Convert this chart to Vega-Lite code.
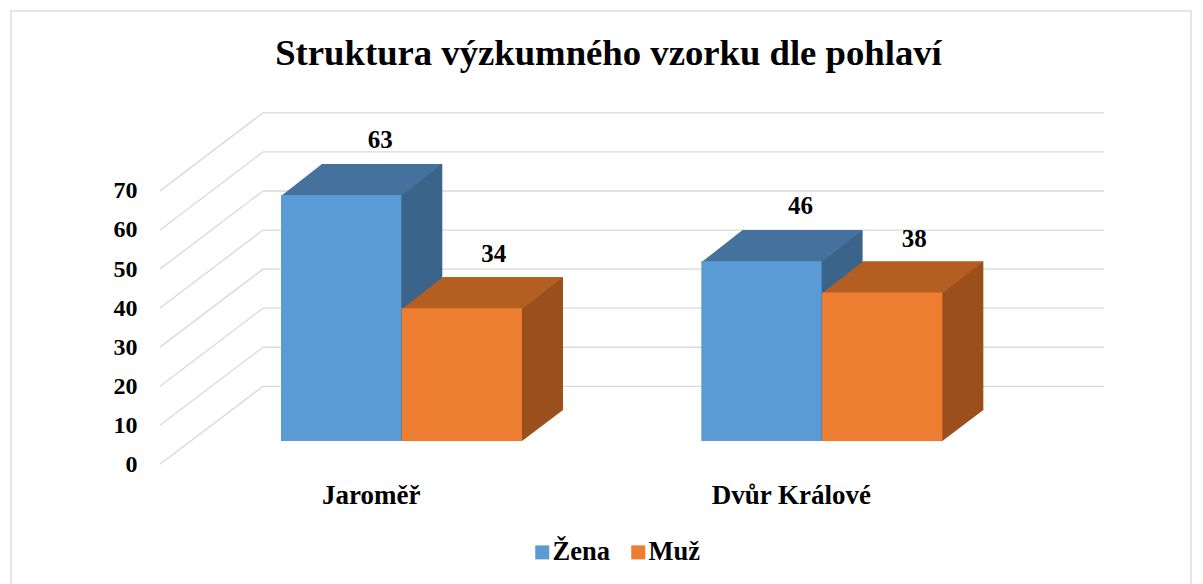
{
  "$schema": "https://vega.github.io/schema/vega-lite/v6.json",
  "width": 903,
  "height": 332,
  "autosize": {"type": "none"},
  "padding": {"left": 160, "top": 109, "right": 140, "bottom": 143},
  "background": "white",
  "title": {
    "text": "Struktura výzkumného vzorku dle pohlaví",
    "font": "Liberation Serif",
    "fontSize": 36.7,
    "fontWeight": "bold",
    "color": "#000000",
    "anchor": "middle",
    "baseline": "alphabetic",
    "offset": -91.6,
    "dx": -3
  },
  "datasets": {
    "bars": [
      {"city": "Jaroměř", "series": "Žena", "value": 63},
      {"city": "Jaroměř", "series": "Muž", "value": 34},
      {"city": "Dvůr Králové", "series": "Žena", "value": 46},
      {"city": "Dvůr Králové", "series": "Muž", "value": 38}
    ],
    "grid": [
      {"value": 0}, {"value": 10}, {"value": 20}, {"value": 30},
      {"value": 40}, {"value": 50}, {"value": 60}, {"value": 70}
    ],
    "frame": [{"k": 1}]
  },
  "resolve": {"scale": {"x": "independent"}, "axis": {"x": "independent"}},
  "layer": [
    {
      "data": {"name": "frame"},
      "mark": {"type": "rect", "fill": "white", "fillOpacity": 0, "stroke": "#D9D9D9", "strokeWidth": 1.3},
      "encoding": {
        "x": {"datum": -149, "type": "quantitative", "scale": {"domain": [0, 903], "nice": false, "zero": false}, "axis": null},
        "x2": {"datum": 1031},
        "y": {"datum": 110.1, "type": "quantitative", "scale": {"domain": [0, 85], "nice": false, "zero": true},
          "axis": {"title": null, "values": [0, 10, 20, 30, 40, 50, 60, 70], "labelOffset": 23.3, "labelPadding": 23, "ticks": false, "tickSize": 0, "domain": false, "grid": false, "labelFont": "Liberation Serif", "labelFontWeight": "bold", "labelFontSize": 24, "labelColor": "#000000", "labelBaseline": "middle"}},
        "y2": {"datum": -40}
      }
    },
    {
      "data": {"name": "grid"},
      "mark": {"type": "rule", "color": "#D9D9D9", "strokeWidth": 1.3, "yOffset": -54.7},
      "encoding": {
        "x": {"datum": 103, "type": "quantitative", "scale": {"domain": [0, 903], "nice": false, "zero": false}, "axis": null},
        "x2": {"datum": 944},
        "y": {"field": "value", "type": "quantitative", "scale": {"domain": [0, 85], "nice": false, "zero": true},
          "axis": {"title": null, "values": [0, 10, 20, 30, 40, 50, 60, 70], "labelOffset": 23.3, "labelPadding": 23, "ticks": false, "tickSize": 0, "domain": false, "grid": false, "labelFont": "Liberation Serif", "labelFontWeight": "bold", "labelFontSize": 24, "labelColor": "#000000", "labelBaseline": "middle"}}
      }
    },
    {
      "data": {"name": "grid"},
      "mark": {"type": "rule", "color": "#D9D9D9", "strokeWidth": 1.3, "yOffset": 23.3, "y2Offset": -54.7},
      "encoding": {
        "x": {"datum": 0, "type": "quantitative", "scale": {"domain": [0, 903], "nice": false, "zero": false}, "axis": null},
        "x2": {"datum": 103},
        "y": {"field": "value", "type": "quantitative", "scale": {"domain": [0, 85], "nice": false, "zero": true},
          "axis": {"title": null, "values": [0, 10, 20, 30, 40, 50, 60, 70], "labelOffset": 23.3, "labelPadding": 23, "ticks": false, "tickSize": 0, "domain": false, "grid": false, "labelFont": "Liberation Serif", "labelFontWeight": "bold", "labelFontSize": 24, "labelColor": "#000000", "labelBaseline": "middle"}},
        "y2": {"field": "value"}
      }
    },
    {
      "data": {"name": "bars"},
      "transform": [{"filter": "datum.series === 'Žena'"}],
      "mark": {"type": "bar", "color": "#3A6489", "xOffset": 41, "yOffset": -31, "y2Offset": -31},
      "encoding": {
        "x": {"field": "city", "type": "nominal", "scale": {"type": "band", "domain": ["Jaroměř", "Dvůr Králové"], "paddingInner": 0.7138, "paddingOuter": 0.4311, "align": 0.3339}, "axis": null},
        "y": {"field": "value", "type": "quantitative", "scale": {"domain": [0, 85], "nice": false, "zero": true},
          "axis": {"title": null, "values": [0, 10, 20, 30, 40, 50, 60, 70], "labelOffset": 23.3, "labelPadding": 23, "ticks": false, "tickSize": 0, "domain": false, "grid": false, "labelFont": "Liberation Serif", "labelFontWeight": "bold", "labelFontSize": 24, "labelColor": "#000000", "labelBaseline": "middle"}}
      }
    },
    {
      "data": {"name": "bars"},
      "transform": [{"filter": "datum.series === 'Žena'"}],
      "mark": {"type": "point", "shape": "M-0.6015,0.01L0.6015,0.01L1.0115,-0.31L-0.1915,-0.31Z", "size": 40000, "filled": true, "opacity": 1, "color": "#44729D", "strokeWidth": 0},
      "encoding": {
        "x": {"field": "city", "type": "nominal", "scale": {"type": "band", "domain": ["Jaroměř", "Dvůr Králové"], "paddingInner": 0.7138, "paddingOuter": 0.4311, "align": 0.3339}, "axis": null},
        "y": {"field": "value", "type": "quantitative", "scale": {"domain": [0, 85], "nice": false, "zero": true},
          "axis": {"title": null, "values": [0, 10, 20, 30, 40, 50, 60, 70], "labelOffset": 23.3, "labelPadding": 23, "ticks": false, "tickSize": 0, "domain": false, "grid": false, "labelFont": "Liberation Serif", "labelFontWeight": "bold", "labelFontSize": 24, "labelColor": "#000000", "labelBaseline": "middle"}}
      }
    },
    {
      "data": {"name": "bars"},
      "transform": [{"filter": "datum.series === 'Žena'"}],
      "mark": {"type": "point", "shape": "M0.59,-0.32L0.59,0L0.6015,0L1.0115,-0.31L1.0115,-0.32Z", "size": 40000, "filled": true, "opacity": 1, "color": "#3A6489", "strokeWidth": 0},
      "encoding": {
        "x": {"field": "city", "type": "nominal", "scale": {"type": "band", "domain": ["Jaroměř", "Dvůr Králové"], "paddingInner": 0.7138, "paddingOuter": 0.4311, "align": 0.3339}, "axis": null},
        "y": {"datum": 0, "type": "quantitative", "scale": {"domain": [0, 85], "nice": false, "zero": true},
          "axis": {"title": null, "values": [0, 10, 20, 30, 40, 50, 60, 70], "labelOffset": 23.3, "labelPadding": 23, "ticks": false, "tickSize": 0, "domain": false, "grid": false, "labelFont": "Liberation Serif", "labelFontWeight": "bold", "labelFontSize": 24, "labelColor": "#000000", "labelBaseline": "middle"}}
      }
    },
    {
      "data": {"name": "bars"},
      "transform": [{"filter": "datum.series === 'Žena'"}],
      "mark": {"type": "bar"},
      "encoding": {
        "x": {"field": "city", "type": "nominal", "scale": {"type": "band", "domain": ["Jaroměř", "Dvůr Králové"], "paddingInner": 0.7138, "paddingOuter": 0.4311, "align": 0.3339},
          "axis": {"title": null, "labelOffset": 30, "labelPadding": 62, "labelBaseline": "alphabetic", "ticks": false, "tickSize": 0, "domain": false, "grid": false, "labelAngle": 0, "labelFont": "Liberation Serif", "labelFontWeight": "bold", "labelFontSize": 27, "labelColor": "#000000"}},
        "y": {"field": "value", "type": "quantitative", "scale": {"domain": [0, 85], "nice": false, "zero": true},
          "axis": {"title": null, "values": [0, 10, 20, 30, 40, 50, 60, 70], "labelOffset": 23.3, "labelPadding": 23, "ticks": false, "tickSize": 0, "domain": false, "grid": false, "labelFont": "Liberation Serif", "labelFontWeight": "bold", "labelFontSize": 24, "labelColor": "#000000", "labelBaseline": "middle"}},
        "color": {"field": "series", "type": "nominal", "scale": {"domain": ["Žena", "Muž"], "range": ["#5B9BD5", "#ED7D31"]},
          "legend": {"orient": "none", "legendX": 369, "legendY": 430, "direction": "horizontal", "title": null, "symbolType": "square", "symbolSize": 196, "symbolStrokeWidth": 0, "symbolOpacity": 1, "labelFont": "Liberation Serif", "labelFontWeight": "bold", "labelFontSize": 26.5, "labelColor": "#000000", "labelOffset": -3, "columnPadding": 15, "padding": 0}}
      }
    },
    {
      "data": {"name": "bars"},
      "transform": [{"filter": "datum.series === 'Muž'"}],
      "mark": {"type": "bar", "color": "#9A4F1D", "xOffset": 41, "yOffset": -31, "y2Offset": -31},
      "encoding": {
        "x": {"field": "city", "type": "nominal", "scale": {"type": "band", "domain": ["Jaroměř", "Dvůr Králové"], "paddingInner": 0.7138, "paddingOuter": 0.4311, "align": 0.667}, "axis": null},
        "y": {"field": "value", "type": "quantitative", "scale": {"domain": [0, 85], "nice": false, "zero": true},
          "axis": {"title": null, "values": [0, 10, 20, 30, 40, 50, 60, 70], "labelOffset": 23.3, "labelPadding": 23, "ticks": false, "tickSize": 0, "domain": false, "grid": false, "labelFont": "Liberation Serif", "labelFontWeight": "bold", "labelFontSize": 24, "labelColor": "#000000", "labelBaseline": "middle"}}
      }
    },
    {
      "data": {"name": "bars"},
      "transform": [{"filter": "datum.series === 'Muž'"}],
      "mark": {"type": "point", "shape": "M-0.6015,0.01L0.6015,0.01L1.0115,-0.31L-0.1915,-0.31Z", "size": 40000, "filled": true, "opacity": 1, "color": "#B55E22", "strokeWidth": 0},
      "encoding": {
        "x": {"field": "city", "type": "nominal", "scale": {"type": "band", "domain": ["Jaroměř", "Dvůr Králové"], "paddingInner": 0.7138, "paddingOuter": 0.4311, "align": 0.667}, "axis": null},
        "y": {"field": "value", "type": "quantitative", "scale": {"domain": [0, 85], "nice": false, "zero": true},
          "axis": {"title": null, "values": [0, 10, 20, 30, 40, 50, 60, 70], "labelOffset": 23.3, "labelPadding": 23, "ticks": false, "tickSize": 0, "domain": false, "grid": false, "labelFont": "Liberation Serif", "labelFontWeight": "bold", "labelFontSize": 24, "labelColor": "#000000", "labelBaseline": "middle"}}
      }
    },
    {
      "data": {"name": "bars"},
      "transform": [{"filter": "datum.series === 'Muž'"}],
      "mark": {"type": "point", "shape": "M0.59,-0.32L0.59,0L0.6015,0L1.0115,-0.31L1.0115,-0.32Z", "size": 40000, "filled": true, "opacity": 1, "color": "#9A4F1D", "strokeWidth": 0},
      "encoding": {
        "x": {"field": "city", "type": "nominal", "scale": {"type": "band", "domain": ["Jaroměř", "Dvůr Králové"], "paddingInner": 0.7138, "paddingOuter": 0.4311, "align": 0.667}, "axis": null},
        "y": {"datum": 0, "type": "quantitative", "scale": {"domain": [0, 85], "nice": false, "zero": true},
          "axis": {"title": null, "values": [0, 10, 20, 30, 40, 50, 60, 70], "labelOffset": 23.3, "labelPadding": 23, "ticks": false, "tickSize": 0, "domain": false, "grid": false, "labelFont": "Liberation Serif", "labelFontWeight": "bold", "labelFontSize": 24, "labelColor": "#000000", "labelBaseline": "middle"}}
      }
    },
    {
      "data": {"name": "bars"},
      "transform": [{"filter": "datum.series === 'Muž'"}],
      "mark": {"type": "bar"},
      "encoding": {
        "x": {"field": "city", "type": "nominal", "scale": {"type": "band", "domain": ["Jaroměř", "Dvůr Králové"], "paddingInner": 0.7138, "paddingOuter": 0.4311, "align": 0.667}, "axis": null},
        "y": {"field": "value", "type": "quantitative", "scale": {"domain": [0, 85], "nice": false, "zero": true},
          "axis": {"title": null, "values": [0, 10, 20, 30, 40, 50, 60, 70], "labelOffset": 23.3, "labelPadding": 23, "ticks": false, "tickSize": 0, "domain": false, "grid": false, "labelFont": "Liberation Serif", "labelFontWeight": "bold", "labelFontSize": 24, "labelColor": "#000000", "labelBaseline": "middle"}},
        "color": {"field": "series", "type": "nominal", "scale": {"domain": ["Žena", "Muž"], "range": ["#5B9BD5", "#ED7D31"]}, "legend": null}
      }
    },
    {
      "data": {"name": "bars"},
      "transform": [{"filter": "datum.series === 'Žena'"}],
      "mark": {"type": "text", "dx": 39, "dy": -47, "baseline": "alphabetic", "align": "center", "font": "Liberation Serif", "fontWeight": "bold", "fontSize": 25, "color": "#000000"},
      "encoding": {
        "x": {"field": "city", "type": "nominal", "scale": {"type": "band", "domain": ["Jaroměř", "Dvůr Králové"], "paddingInner": 0.7138, "paddingOuter": 0.4311, "align": 0.3339}, "axis": null},
        "y": {"field": "value", "type": "quantitative", "scale": {"domain": [0, 85], "nice": false, "zero": true},
          "axis": {"title": null, "values": [0, 10, 20, 30, 40, 50, 60, 70], "labelOffset": 23.3, "labelPadding": 23, "ticks": false, "tickSize": 0, "domain": false, "grid": false, "labelFont": "Liberation Serif", "labelFontWeight": "bold", "labelFontSize": 24, "labelColor": "#000000", "labelBaseline": "middle"}},
        "text": {"field": "value", "type": "quantitative"}
      }
    },
    {
      "data": {"name": "bars"},
      "transform": [{"filter": "datum.series === 'Muž'"}],
      "mark": {"type": "text", "dx": 32, "dy": -46, "baseline": "alphabetic", "align": "center", "font": "Liberation Serif", "fontWeight": "bold", "fontSize": 25, "color": "#000000"},
      "encoding": {
        "x": {"field": "city", "type": "nominal", "scale": {"type": "band", "domain": ["Jaroměř", "Dvůr Králové"], "paddingInner": 0.7138, "paddingOuter": 0.4311, "align": 0.667}, "axis": null},
        "y": {"field": "value", "type": "quantitative", "scale": {"domain": [0, 85], "nice": false, "zero": true},
          "axis": {"title": null, "values": [0, 10, 20, 30, 40, 50, 60, 70], "labelOffset": 23.3, "labelPadding": 23, "ticks": false, "tickSize": 0, "domain": false, "grid": false, "labelFont": "Liberation Serif", "labelFontWeight": "bold", "labelFontSize": 24, "labelColor": "#000000", "labelBaseline": "middle"}},
        "text": {"field": "value", "type": "quantitative"}
      }
    }
  ],
  "config": {"view": {"stroke": null}, "font": "Liberation Serif"}
}
